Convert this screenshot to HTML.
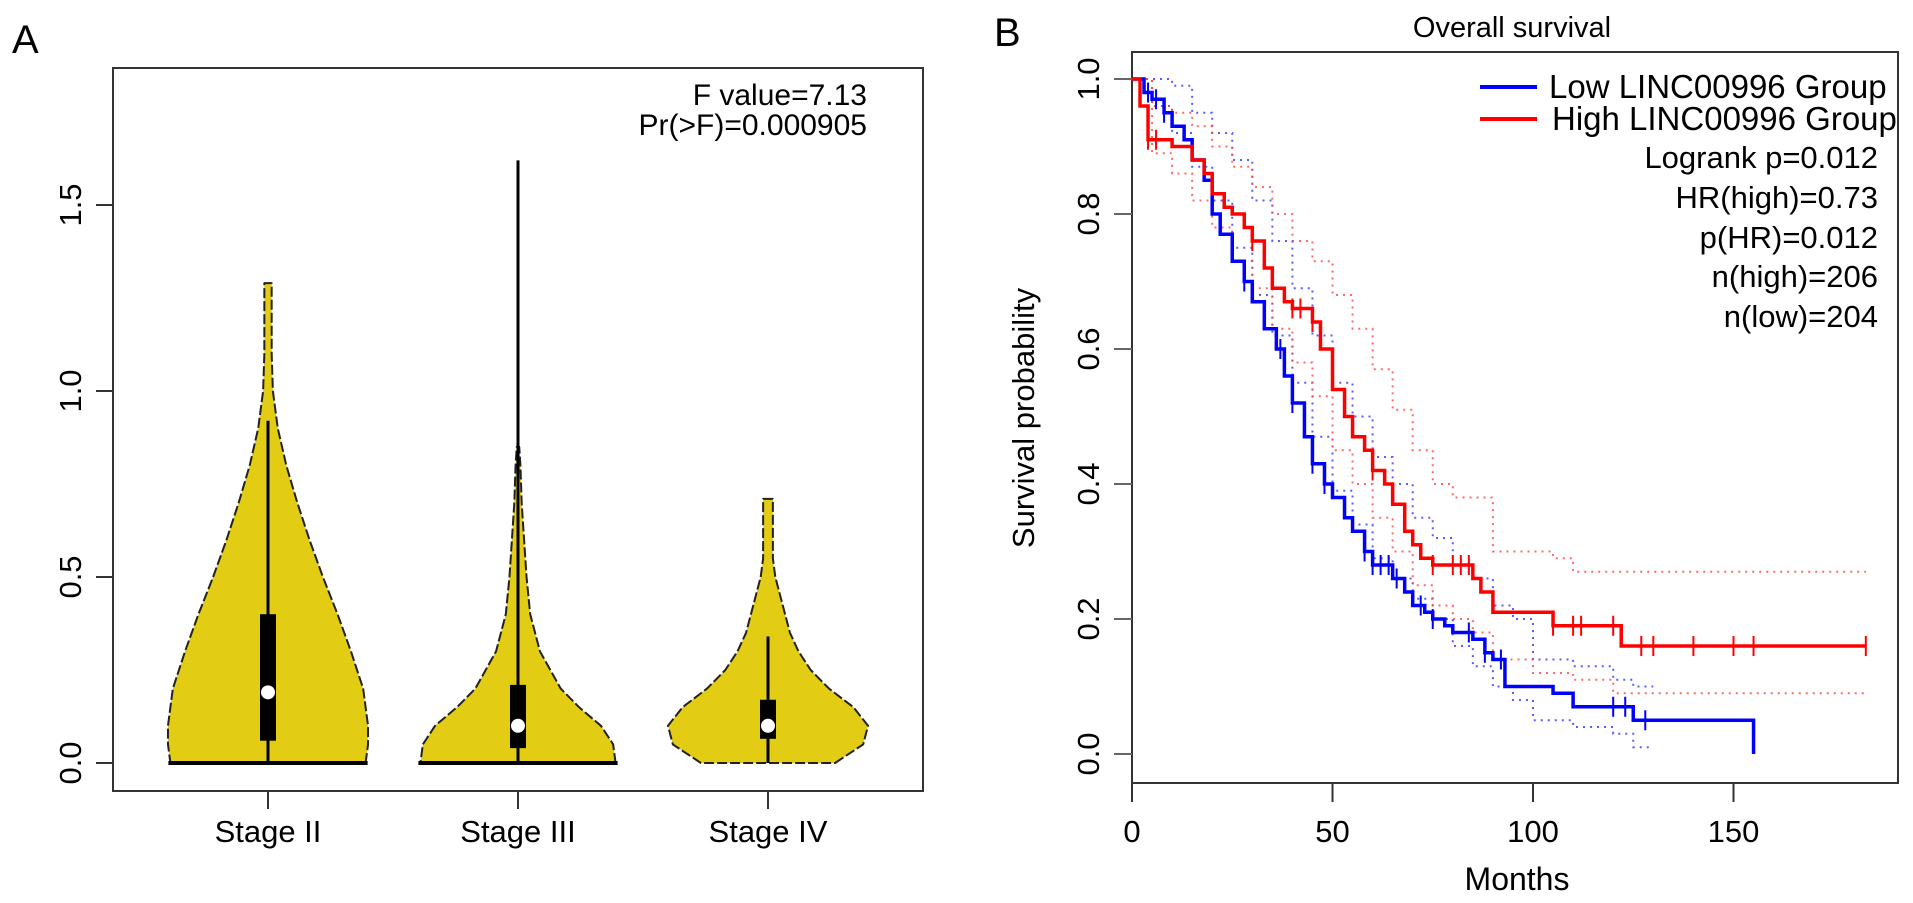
<!DOCTYPE html>
<html><head><meta charset="utf-8"><style>
html,body{margin:0;padding:0;background:#fff;}
svg{display:block;font-family:"Liberation Sans",sans-serif;}
</style></head><body>
<svg id="c" width="1913" height="903" viewBox="0 0 1913 903" xmlns="http://www.w3.org/2000/svg">
<text x="12" y="53" font-size="40">A</text>
<text x="994" y="46" font-size="40">B</text>
<rect x="113" y="68" width="810" height="723" fill="none" stroke="#333" stroke-width="2"/>
<text x="867" y="105" font-size="30" text-anchor="end">F value=7.13</text>
<text x="867" y="135" font-size="30" text-anchor="end">Pr(&gt;F)=0.000905</text>
<g id="ga"></g>
<rect x="1132" y="52" width="766" height="731" fill="none" stroke="#333" stroke-width="2"/>
<text x="1512" y="37" font-size="29" text-anchor="middle">Overall survival</text>
<text transform="translate(1034,418) rotate(-90)" font-size="31" text-anchor="middle">Survival probability</text>
<text x="1517" y="890" font-size="32" text-anchor="middle">Months</text>
<g id="gb"></g>
<line x1="1480" y1="87" x2="1537" y2="87" stroke="#0000ff" stroke-width="4"/>
<text x="1549" y="98" font-size="33">Low LINC00996 Group</text>
<line x1="1480" y1="119" x2="1537" y2="119" stroke="#ff0000" stroke-width="4"/>
<text x="1552" y="130" font-size="33">High LINC00996 Group</text>
<text x="1878" y="168" font-size="31" text-anchor="end">Logrank p=0.012</text>
<text x="1878" y="208" font-size="31" text-anchor="end">HR(high)=0.73</text>
<text x="1878" y="248" font-size="31" text-anchor="end">p(HR)=0.012</text>
<text x="1878" y="287" font-size="31" text-anchor="end">n(high)=206</text>
<text x="1878" y="327" font-size="31" text-anchor="end">n(low)=204</text>
</svg>
<script>
const NS="http://www.w3.org/2000/svg";
// ---- Panel A data ----
const stages=["Stage II","Stage III","Stage IV"];
const aTicks=[0,0.5,1.0,1.5];
const densLevels2=[0,0.05,0.1,0.2,0.3,0.4,0.5,0.6,0.7,0.8,0.9,1.0,1.1,1.2,1.29];
const densWidth2=[80,82,82,78,68,57,45,34,24,15,8,4,3,3,3];
const densLevels3=[0,0.05,0.1,0.15,0.2,0.3,0.4,0.5,0.6,0.7,0.8,0.85];
const densWidth3=[80,78,68,50,35,18,10,7,5,3,2,1];
const densLevels4=[0,0.05,0.1,0.15,0.2,0.25,0.3,0.35,0.4,0.45,0.5,0.55,0.6,0.7,0.71];
const densWidth4=[55,78,82,70,50,35,25,18,14,10,6,4,4,4,4];
const boxQ1=[0.06,0.04,0.065];
const boxMedian=[0.19,0.10,0.10];
const boxQ3=[0.40,0.21,0.17];
const whiskerHi=[0.92,0.47,0.34];
const maxVal=[1.29,1.62,0.71];
const flatBase=[true,true,false];
// ---- Panel B data ----
const lowT=[0,3,5,8,10,13,15,18,20,22,25,28,30,33,36,38,40,43,45,48,50,53,55,58,60,63,65,68,70,73,75,78,80,85,88,90,93,100,105,110,120,125,130,155,155];
const lowS=[1.0,0.98,0.97,0.95,0.93,0.91,0.88,0.85,0.80,0.77,0.73,0.70,0.67,0.63,0.60,0.56,0.52,0.47,0.43,0.40,0.38,0.35,0.33,0.30,0.28,0.28,0.26,0.24,0.22,0.21,0.20,0.19,0.18,0.17,0.15,0.14,0.10,0.10,0.09,0.07,0.07,0.05,0.05,0.05,0.0];
const highT=[0,2,4,5,8,10,15,18,20,23,25,28,30,33,35,38,40,45,47,50,53,55,58,60,63,65,68,70,72,75,82,85,87,90,100,105,120,122,183];
const highS=[1.0,0.96,0.91,0.91,0.91,0.90,0.88,0.86,0.83,0.81,0.80,0.78,0.76,0.72,0.69,0.67,0.66,0.64,0.60,0.54,0.50,0.47,0.45,0.42,0.40,0.37,0.33,0.31,0.29,0.28,0.28,0.26,0.24,0.21,0.21,0.19,0.19,0.16,0.16];
const lowUpper=[1.0,1.0,0.99,0.95,0.92,0.88,0.82,0.76,0.69,0.62,0.55,0.50,0.44,0.40,0.35,0.32,0.28,0.26,0.22,0.20,0.14,0.13,0.11,0.10,0.10];
const lowLower=[1.0,0.96,0.92,0.87,0.82,0.75,0.68,0.62,0.55,0.47,0.39,0.34,0.29,0.26,0.23,0.20,0.16,0.13,0.10,0.08,0.05,0.04,0.03,0.01,0.01];
const ciLowT=[0,5,10,15,20,25,30,35,40,45,50,55,60,65,70,75,80,85,90,95,100,110,120,125,130];
const highUpper=[1.0,0.96,0.95,0.93,0.90,0.87,0.84,0.80,0.76,0.73,0.68,0.63,0.57,0.51,0.45,0.40,0.38,0.38,0.30,0.30,0.29,0.27,0.27,0.27,0.27];
const highLower=[1.0,0.89,0.86,0.82,0.78,0.73,0.69,0.63,0.58,0.53,0.45,0.40,0.35,0.30,0.25,0.22,0.20,0.18,0.14,0.12,0.12,0.11,0.09,0.09,0.09];
const ciHighT=[0,5,10,15,20,25,30,35,40,45,50,55,60,65,70,75,80,85,90,100,105,110,120,150,183];
const lowCens=[4,6,8,28,37,40,45,48,58,60,62,64,66,72,75,84,88,92,120,123,128];
const highCens=[4,6,30,40,42,45,60,75,80,82,84,105,110,112,120,127,130,140,150,155,183];
const bxTicks=[0,50,100,150];
const byTicks=[0,0.2,0.4,0.6,0.8,1.0];

function el(tag,attrs,parent){const e=document.createElementNS(NS,tag);for(const k in attrs)e.setAttribute(k,attrs[k]);parent.appendChild(e);return e;}
const ay=v=>763-v*372;
const ax=i=>268+i*250;
const ga=document.getElementById('ga');
aTicks.forEach(t=>{
  const l=el('line',{x1:96,x2:113,y1:ay(t),y2:ay(t),stroke:'#333','stroke-width':2},ga);
  
  
  const tx=el('text',{transform:`translate(81,${ay(t)}) rotate(-90)`,'font-size':31,'text-anchor':'middle'},ga);
  
  
  tx.textContent=t.toFixed(1);
});
const dens=[[densLevels2,densWidth2],[densLevels3,densWidth3],[densLevels4,densWidth4]];
stages.forEach((s,i)=>{
  const cx=ax(i);const [lv,w]=dens[i];
  let pts=[];
  for(let k=0;k<lv.length;k++)pts.push([cx+w[k]*1.22,ay(lv[k])]);
  for(let k=lv.length-1;k>=0;k--)pts.push([cx-w[k]*1.22,ay(lv[k])]);
  const p=el('polygon',{points:pts.map(p=>p.join(',')).join(' '),fill:'#e2cc14',stroke:'#222','stroke-width':2,'stroke-dasharray':'10,3','stroke-linejoin':'round'},ga);
  
  
  if(flatBase[i]){const b=el('line',{x1:cx-w[0]*1.22-2,x2:cx+w[0]*1.22+2,y1:ay(0),y2:ay(0),stroke:'#000','stroke-width':4},ga);
    
    }
  const wl=el('line',{x1:cx,x2:cx,y1:ay(0),y2:ay(Math.max(whiskerHi[i],i===1?maxVal[i]:0)),stroke:'#000','stroke-width':3},ga);
  
  
  const bx=el('rect',{x:cx-8,width:16,y:ay(boxQ3[i]),height:ay(boxQ1[i])-ay(boxQ3[i]),fill:'#000'},ga);
  
  
  const m=el('circle',{cx:cx,cy:ay(boxMedian[i]),r:7,fill:'#fff'},ga);
  
  
  const tk=el('line',{x1:cx,x2:cx,y1:791,y2:809,stroke:'#333','stroke-width':2},ga);
  
  
  const t=el('text',{x:cx,y:842,'font-size':31,'text-anchor':'middle'},ga);
  
  
  t.textContent=s;
});
const bx=m=>1132+m*4.01;
const by=v=>754-v*675;
const gb=document.getElementById('gb');
byTicks.forEach(t=>{
  const l=el('line',{x1:1114,x2:1132,y1:by(t),y2:by(t),stroke:'#666','stroke-width':2},gb);
  
  
  const tx=el('text',{transform:`translate(1099,${by(t)}) rotate(-90)`,'font-size':31,'text-anchor':'middle'},gb);
  
  
  tx.textContent=t.toFixed(1);
});
bxTicks.forEach(t=>{
  const l=el('line',{x1:bx(t),x2:bx(t),y1:783,y2:802,stroke:'#333','stroke-width':2},gb);
  
  
  const tx=el('text',{x:bx(t),y:842,'font-size':31,'text-anchor':'middle'},gb);
  
  
  tx.textContent=t;
});
function stepPath(T,S){let d=`M${bx(T[0])},${by(S[0])}`;for(let k=1;k<T.length;k++){d+=` H${bx(T[k])} V${by(S[k])}`;}return d;}
function stepAt(T,S,t){let v=S[0];for(let k=0;k<T.length;k++){if(T[k]<=t)v=S[k];}return v;}
[[ciLowT,lowUpper,'#3333ff','ci-low-upper'],[ciLowT,lowLower,'#3333ff','ci-low-lower'],[ciHighT,highUpper,'#ff4444','ci-high-upper'],[ciHighT,highLower,'#ff4444','ci-high-lower']].forEach(([T,S,c,n])=>{
  const p=el('path',{d:stepPath(T,S),fill:'none',stroke:c,'stroke-width':2,'stroke-dasharray':'2,5','opacity':0.8},gb);
  
  
});
[[lowT,lowS,'#0000ff','low-group-curve',lowCens],[highT,highS,'#ff0000','high-group-curve',highCens]].forEach(([T,S,c,n,C])=>{
  const p=el('path',{d:stepPath(T,S),fill:'none',stroke:c,'stroke-width':3.5},gb);
  
  
  C.forEach(t=>{const y=by(stepAt(T,S,t));
    const m=el('line',{x1:bx(t),x2:bx(t),y1:y-10,y2:y+10,stroke:c,'stroke-width':2},gb);
    
    });
});
</script>
</body></html>
